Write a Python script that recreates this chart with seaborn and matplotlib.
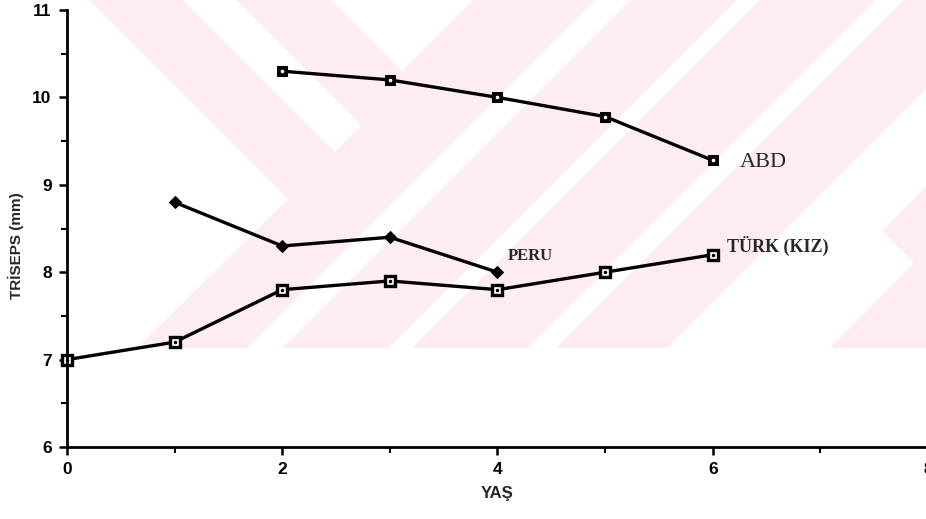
import matplotlib
matplotlib.use("Agg")
import matplotlib.pyplot as plt
from matplotlib.patches import Polygon, Rectangle
from matplotlib.ticker import MultipleLocator
import seaborn as sns

# ---- data ----
abd_age = [2, 3, 4, 5, 6]
abd_val = [10.3, 10.2, 10.0, 9.78, 9.28]
peru_age = [1, 2, 3, 4]
peru_val = [8.8, 8.3, 8.4, 8.0]
turk_age = [0, 1, 2, 3, 4, 5, 6]
turk_val = [7.0, 7.2, 7.8, 7.9, 7.8, 8.0, 8.2]
series_labels = ["ABD", "PERU", "TÜRK (KIZ)"]
x_ticks = [0, 2, 4, 6, 8]
y_ticks = [6, 7, 8, 9, 10, 11]

sns.set_style("ticks")
plt.rcParams["font.family"] = ["Liberation Sans Narrow", "Liberation Sans", "DejaVu Sans"]

W, H = 926, 519
fig = plt.figure(figsize=(W / 100, H / 100), dpi=100)

# ---- faint background watermark (scan artefact) ----
bg = fig.add_axes([0, 0, 1, 1], zorder=0)
bg.set_xlim(0, W)
bg.set_ylim(H, 0)
bg.axis("off")
pink = "#fdedf0"
bg.add_patch(Rectangle((0, 0), W, 348, color=pink, lw=0))
white_polys = [
    [(0, 0), (89, 0), (288, 199), (137, 348), (0, 348)],
    [(183, 0), (236, 0), (361, 125), (335, 152)],
    [(331, 0), (473, 0), (402, 71)],
    [(595, 0), (630, 0), (282, 348), (247, 348)],
    [(737, 0), (760, 0), (412, 348), (389, 348)],
    [(876, 0), (904, 0), (556, 348), (528, 348)],
    [(926, 89), (926, 348), (667, 348)],
]
for p in white_polys:
    bg.add_patch(Polygon(p, closed=True, color="white", lw=0))
bg.add_patch(Polygon([(926, 187), (882, 231), (914, 263), (830, 348), (926, 348)],
                     closed=True, color=pink, lw=0))

# ---- main axes ----
left, right = 67 / W, 928 / W
bottom, top = 1 - 447 / H, 1 - 10 / H
ax = fig.add_axes([left, bottom, right - left, top - bottom], zorder=1)
ax.patch.set_alpha(0)

lw = 2.4
sns.lineplot(x=abd_age, y=abd_val, ax=ax, color="black", lw=lw, marker="s",
             markersize=7, markerfacecolor="black", markeredgecolor="black", clip_on=False)
ax.plot(abd_age, abd_val, ls="none", marker="o", ms=1.6, mfc="white", mec="white", zorder=5)

sns.lineplot(x=peru_age, y=peru_val, ax=ax, color="black", lw=lw, marker="D",
             markersize=6.5, markerfacecolor="black", markeredgecolor="black", clip_on=False)

sns.lineplot(x=turk_age, y=turk_val, ax=ax, color="black", lw=lw, marker="s",
             markersize=6.5, markerfacecolor="white", markeredgecolor="black",
             markeredgewidth=2.4, clip_on=False)
ax.plot(turk_age, turk_val, ls="none", marker="o", ms=1.5, mfc="black", mec="black",
        zorder=5, clip_on=False)

ax.set_xlim(0, 8)
ax.set_ylim(6, 11)
ax.set_xticks(x_ticks)
ax.set_yticks(y_ticks)
ax.xaxis.set_minor_locator(MultipleLocator(1))
ax.yaxis.set_minor_locator(MultipleLocator(0.5))

for s in ["top", "right"]:
    ax.spines[s].set_visible(False)
for s in ["left", "bottom"]:
    ax.spines[s].set_linewidth(2.0)
    ax.spines[s].set_color("black")

ax.tick_params(axis="both", which="major", direction="out", length=6, width=1.8,
               colors="black", labelsize=12.5, pad=5)
ax.tick_params(axis="both", which="minor", direction="out", length=4, width=1.5,
               colors="black")
for lab in ax.get_xticklabels() + ax.get_yticklabels():
    lab.set_fontweight("bold")

ax.set_xlabel("YAŞ", fontsize=12, fontweight="bold", labelpad=6)
ax.set_ylabel("TRİSEPS (mm)", fontsize=11, fontweight="bold", labelpad=16)
ax.yaxis.set_label_coords(-0.05, 0.46)

serif = ["Liberation Serif", "DejaVu Serif"]
ax.text(abd_age[-1] + 0.25, abd_val[-1] - 0.03, series_labels[0], fontsize=16,
        family=serif, va="center", ha="left")
ax.text(peru_age[-1] + 0.1, peru_val[-1] + 0.18, series_labels[1], fontsize=12,
        family=serif, fontweight="bold", va="center", ha="left")
ax.text(turk_age[-1] + 0.13, turk_val[-1] + 0.1, series_labels[2], fontsize=13,
        family=serif, fontweight="bold", va="center", ha="left")

fig.savefig("out.png", dpi=100)
